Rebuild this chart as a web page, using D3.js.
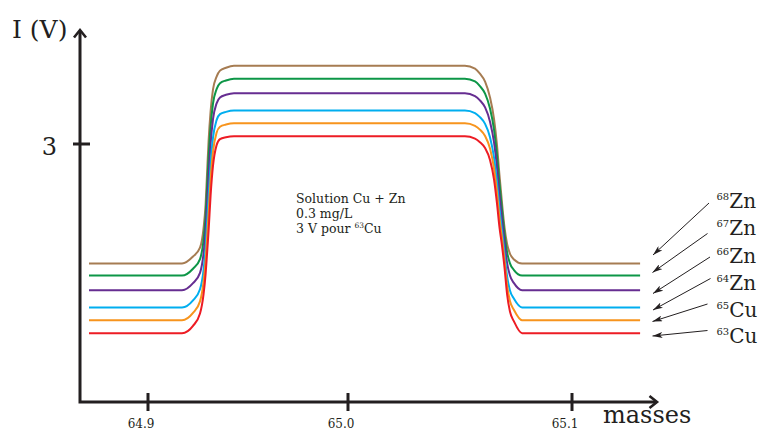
<!DOCTYPE html>
<html><head><meta charset="utf-8">
<script src="https://cdn.jsdelivr.net/npm/d3@7/dist/d3.min.js"></script>
<style>
body{margin:0;background:#fff}
svg{display:block}
text{font-family:"DejaVu Serif",serif;fill:#231f20}
</style>
</head><body>
<svg id="chart" width="760" height="430"></svg>
<script>
// ---- data ----
const masses = [64.8705, 64.917, 64.9225, 64.926, 64.9278, 64.9288, 64.9295, 64.9303, 64.9313, 64.9325, 64.9343, 64.936, 64.939, 64.943,
  65.0522, 65.0567, 65.0589, 65.0612, 65.0634, 65.0652, 65.0665, 65.0676, 65.0688, 65.0699, 65.0710, 65.0723, 65.0741, 65.0777, 65.1304];

const isotopeMass = ["68", "67", "66", "64", "65", "63"];
const isotopeElem = ["Zn", "Zn", "Zn", "Zn", "Cu", "Cu"];
const seriesColors = ["#a67c52", "#0d9647", "#662d91", "#00aeef", "#f7941d", "#ed1c24"];

const I68Zn = [1.61, 1.61, 1.691, 1.794, 2.024, 2.30, 2.645, 3.036, 3.381, 3.634, 3.784, 3.853, 3.887, 3.91,
  3.91, 3.876, 3.818, 3.726, 3.542, 3.289, 2.99, 2.645, 2.30, 2.024, 1.84, 1.725, 1.656, 1.61, 1.61];
const I67Zn = [1.47, 1.47, 1.550, 1.662, 1.891, 2.157, 2.478, 2.844, 3.201, 3.471, 3.639, 3.707, 3.739, 3.76,
  3.76, 3.728, 3.673, 3.586, 3.412, 3.165, 2.871, 2.542, 2.221, 1.951, 1.745, 1.612, 1.534, 1.47, 1.47];
const I66Zn = [1.30, 1.30, 1.382, 1.502, 1.731, 1.987, 2.285, 2.628, 2.999, 3.288, 3.473, 3.542, 3.572, 3.59,
  3.59, 3.558, 3.508, 3.425, 3.260, 3.018, 2.729, 2.413, 2.115, 1.850, 1.621, 1.470, 1.382, 1.30, 1.30];
const I64Zn = [1.10, 1.10, 1.182, 1.311, 1.540, 1.787, 2.062, 2.382, 2.767, 3.074, 3.278, 3.347, 3.374, 3.39,
  3.39, 3.360, 3.312, 3.234, 3.079, 2.840, 2.556, 2.254, 1.979, 1.718, 1.466, 1.297, 1.201, 1.10, 1.10];
const I65Cu = [0.95, 0.95, 1.035, 1.170, 1.399, 1.637, 1.889, 2.187, 2.585, 2.910, 3.132, 3.201, 3.226, 3.24,
  3.24, 3.210, 3.167, 3.093, 2.947, 2.713, 2.434, 2.145, 1.894, 1.637, 1.362, 1.174, 1.069, 0.95, 0.95];
const I63Cu = [0.80, 0.80, 0.885, 1.029, 1.258, 1.487, 1.716, 1.991, 2.403, 2.747, 2.987, 3.056, 3.079, 3.09,
  3.09, 3.063, 3.021, 2.953, 2.815, 2.586, 2.311, 2.037, 1.808, 1.556, 1.258, 1.052, 0.937, 0.80, 0.80];

const xTicks = [64.9, 65.0, 65.1];
const xTickLabels = ["64.9", "65.0", "65.1"];
const yTicks = [3];
const yTickLabels = ["3"];
const yTitle = "I (V)";
const xTitle = "masses";
const noteLines = ["Solution Cu + Zn", "0.3 mg/L"];

// ---- drawing ----
const seriesValues = [I68Zn, I67Zn, I66Zn, I64Zn, I65Cu, I63Cu];
const svg = d3.select("#chart");
const ink = "#231f20";

const x = d3.scaleLinear().domain([64.9, 65.0, 65.1]).range([148, 348, 572]);
const y = d3.scaleLinear().domain([0, 3]).range([402, 144]);

const line = d3.line()
  .x((d, i) => x(masses[i]))
  .y(d => y(d))
  .curve(d3.curveMonotoneX);

svg.append("g").selectAll("path")
  .data(seriesValues)
  .join("path")
  .attr("d", d => line(d))
  .attr("fill", "none")
  .attr("stroke", (d, i) => seriesColors[i])
  .attr("stroke-width", 2)
  .attr("stroke-linejoin", "round");

// axes
const axisX0 = 80, axisY0 = y(0);
svg.append("path")
  .attr("d", `M${axisX0},31 L${axisX0},${axisY0} L655,${axisY0}`)
  .attr("fill", "none").attr("stroke", ink).attr("stroke-width", 3)
  .attr("stroke-linejoin", "miter");
svg.append("path")
  .attr("d", `M${axisX0 - 6},37.5 L${axisX0},30 L${axisX0 + 6},37.5`)
  .attr("fill", "none").attr("stroke", ink).attr("stroke-width", 2.6);
svg.append("path")
  .attr("d", `M649.5,${axisY0 - 6} L657,${axisY0} L649.5,${axisY0 + 6}`)
  .attr("fill", "none").attr("stroke", ink).attr("stroke-width", 2.6);

// y ticks
yTicks.forEach((v, i) => {
  svg.append("line").attr("x1", 73).attr("x2", 90).attr("y1", y(v)).attr("y2", y(v))
    .attr("stroke", ink).attr("stroke-width", 3);
  svg.append("text").attr("x", 57).attr("y", y(v) + 11).attr("text-anchor", "end")
    .attr("font-size", 24).text(yTickLabels[i]);
});

// x ticks
xTicks.forEach((v, i) => {
  svg.append("line").attr("x1", x(v)).attr("x2", x(v)).attr("y1", axisY0 - 9).attr("y2", axisY0 + 9)
    .attr("stroke", ink).attr("stroke-width", 3);
  svg.append("text").attr("x", x(v) - 7).attr("y", 428).attr("text-anchor", "middle")
    .attr("font-size", 12).text(xTickLabels[i]);
});

// titles
svg.append("text").attr("x", 12).attr("y", 38).attr("font-size", 25).text(yTitle);
svg.append("text").attr("x", 603).attr("y", 423).attr("font-size", 24).text(xTitle);

// note
noteLines.forEach((t, i) => {
  svg.append("text").attr("x", 296).attr("y", 203 + i * 14.7).attr("font-size", 12.5).text(t);
});
const note3 = svg.append("text").attr("x", 296).attr("y", 232.5).attr("font-size", 12.5);
note3.append("tspan").text("3 V pour ");
note3.append("tspan").attr("font-size", 7.5).attr("dy", -5).text("63");
note3.append("tspan").attr("dy", 5).text("Cu");

// legend with arrows
const defs = svg.append("defs");
defs.append("marker").attr("id", "ah").attr("viewBox", "0 0 10 6")
  .attr("refX", 10).attr("refY", 3).attr("markerWidth", 10).attr("markerHeight", 6)
  .attr("markerUnits", "userSpaceOnUse").attr("orient", "auto")
  .append("path").attr("d", "M0,0 L10,3 L0,6 L2.5,3 Z").attr("fill", ink);

const legendBase = [208.3, 235.3, 262.7, 290, 316.7, 343.3];
const arrowStart = [[709, 203], [707.5, 233.5], [710, 257], [710.5, 278.5], [707.5, 304], [707.5, 330.5]];
const arrowEnd = [[653, 255], [652.5, 272.5], [653, 293.5], [653, 310], [652.5, 321.5], [652.5, 336]];

isotopeMass.forEach((m, i) => {
  svg.append("line")
    .attr("x1", arrowStart[i][0]).attr("y1", arrowStart[i][1])
    .attr("x2", arrowEnd[i][0]).attr("y2", arrowEnd[i][1])
    .attr("stroke", ink).attr("stroke-width", 1).attr("marker-end", "url(#ah)");
  const t = svg.append("text").attr("x", 716.5).attr("y", legendBase[i]);
  t.append("tspan").attr("font-size", 10).attr("dy", -8).text(m);
  t.append("tspan").attr("font-size", 20).attr("dy", 8).text(isotopeElem[i]);
});
</script>
</body></html>
